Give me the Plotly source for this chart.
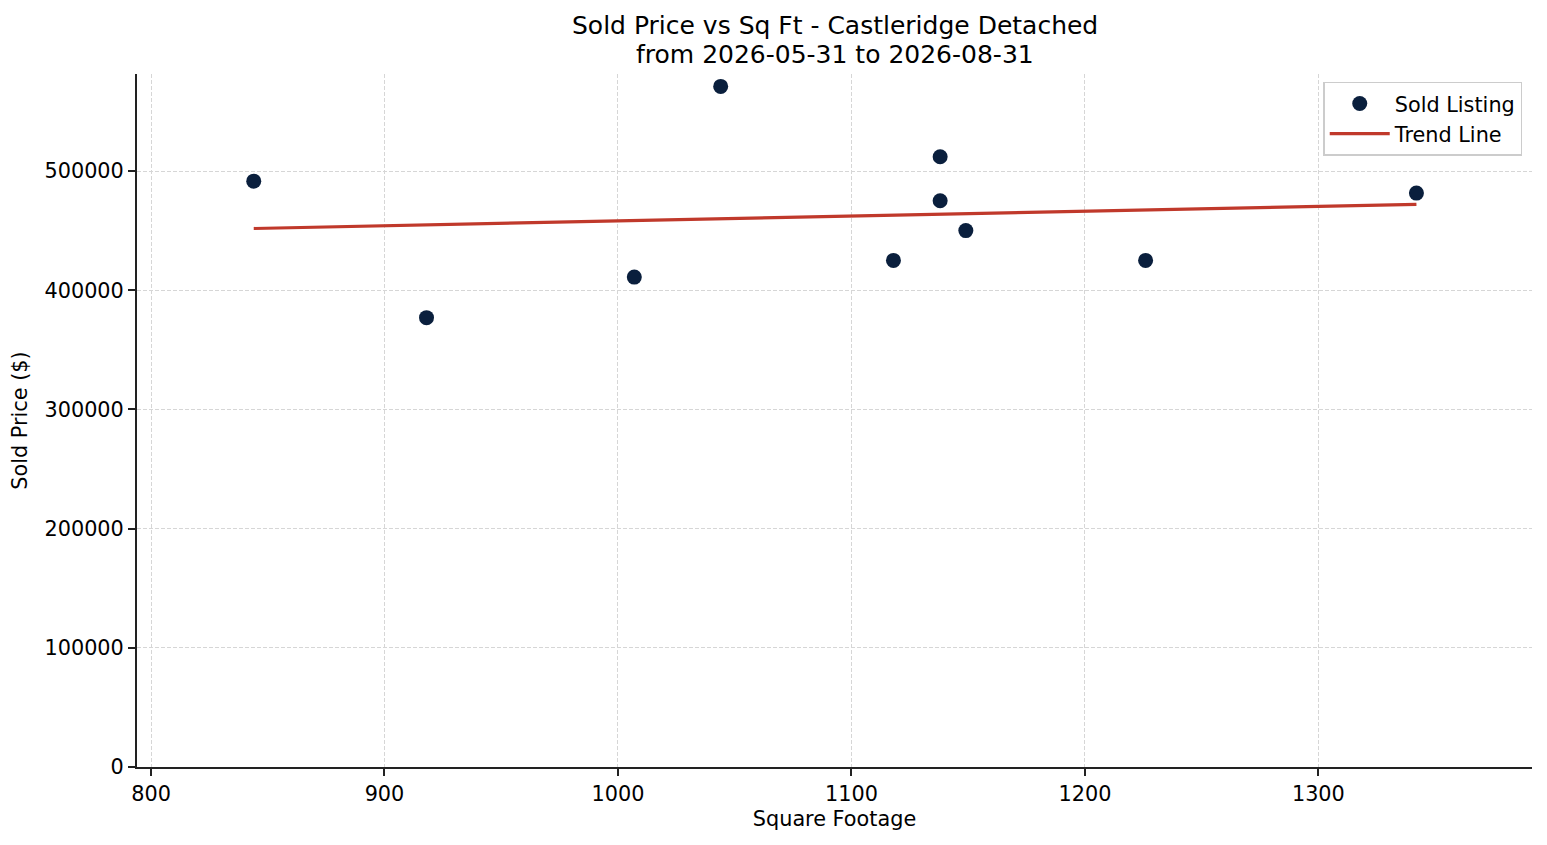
import numpy as np
import plotly.graph_objects as go

# Sold listings
sq_ft = [844, 918, 1007, 1044, 1118, 1138, 1138, 1149, 1226, 1342]
sold_price = [491500, 377000, 411000, 571000, 425000, 512000, 475000, 450000, 425000, 481500]

y_ticks = [0, 100000, 200000, 300000, 400000, 500000]
x_ticks = [800, 900, 1000, 1100, 1200, 1300]

title_lines = ["Sold Price vs Sq Ft - Castleridge Detached", "from 2026-05-31 to 2026-08-31"]

# Least-squares trend line across the listings
slope, intercept = np.polyfit(sq_ft, sold_price, 1)
trend_x = [min(sq_ft), max(sq_ft)]
trend_y = [slope * v + intercept for v in trend_x]

fig = go.Figure()

fig.add_trace(
    go.Scatter(
        x=sq_ft,
        y=sold_price,
        mode="markers",
        name="Sold Listing",
        marker=dict(color="#0a1f3d", size=15, line=dict(width=0)),
    )
)

fig.add_trace(
    go.Scatter(
        x=trend_x,
        y=trend_y,
        mode="lines",
        name="Trend Line",
        line=dict(color="#c0392b", width=3.2),
    )
)

axis_style = dict(
    showline=True,
    linecolor="#222222",
    linewidth=2,
    ticks="outside",
    ticklen=7,
    tickwidth=2,
    tickcolor="#222222",
    showgrid=True,
    gridcolor="#d6d6d6",
    griddash="4px,2px",
    gridwidth=1,
    zeroline=False,
    tickfont=dict(size=20.8, color="#000000"),
    mirror=False,
    automargin=False,
)

# page body has an 8px margin, so the figure is drawn 8px smaller
fig.update_layout(
    width=1539,
    height=837,
    paper_bgcolor="white",
    plot_bgcolor="white",
    font=dict(family="DejaVu Sans", color="#000000"),
    margin=dict(l=129, r=15, t=66, b=78),
    showlegend=True,
    legend=dict(
        x=0.993,
        y=0.9885,
        xanchor="right",
        yanchor="top",
        bgcolor="rgba(255,255,255,0.8)",
        bordercolor="#cccccc",
        borderwidth=1.5,
        font=dict(size=20.8),
        itemwidth=60,
        tracegroupgap=0,
    ),
)

# title lines as paper annotations (tighter line spacing than <br>)
for line, shift in zip(title_lines, [49, 20]):
    fig.add_annotation(
        text=line,
        xref="paper",
        yref="paper",
        x=0.5,
        y=1,
        xanchor="center",
        yanchor="middle",
        yshift=shift,
        showarrow=False,
        font=dict(size=25),
    )

fig.update_xaxes(
    axis_style,
    range=[794, 1391.5],
    tickvals=x_ticks,
    title=dict(text="Square Footage", font=dict(size=20.8), standoff=6),
)
fig.update_yaxes(
    axis_style,
    range=[0, 581400],
    tickvals=y_ticks,
    tickformat="d",
    title=dict(text="Sold Price ($)", font=dict(size=20.8), standoff=12),
)

fig.write_html("out.html")
